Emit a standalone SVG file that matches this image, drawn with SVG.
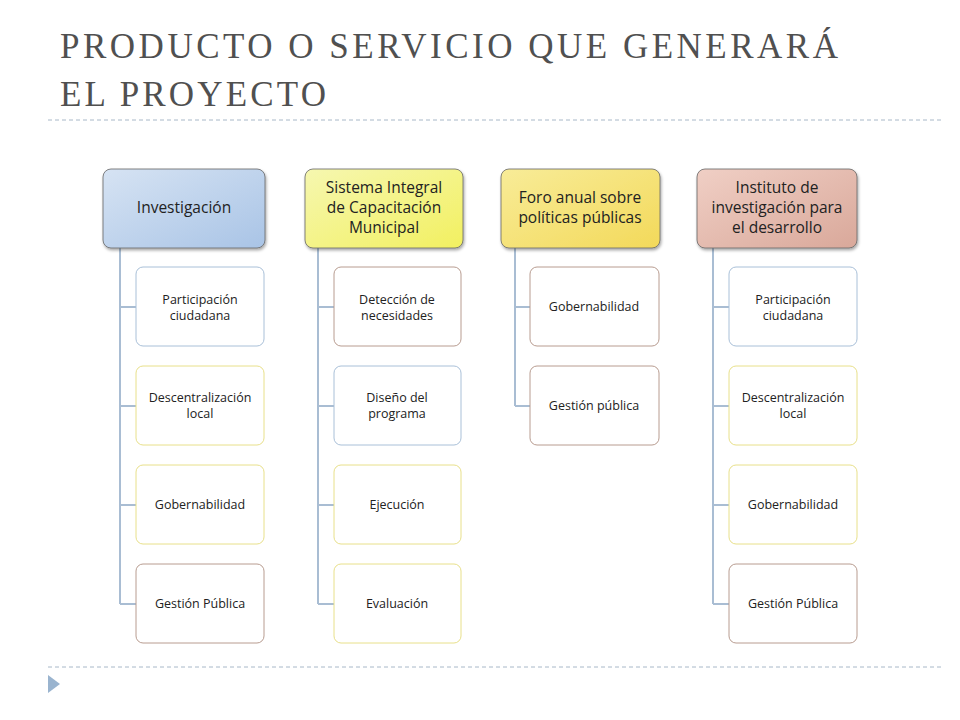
<svg xmlns="http://www.w3.org/2000/svg" width="960" height="720" viewBox="0 0 960 720">
<style>
.title{font-family:"Liberation Serif",serif;font-size:35px;fill:#505050}
.h{font-family:"Open Sans","Liberation Sans",sans-serif;font-size:15.5px;fill:#222;text-anchor:middle}
.c{font-family:"Open Sans","Liberation Sans",sans-serif;font-size:12.5px;fill:#222;text-anchor:middle}
.cb{fill:#fff;stroke-width:1}
.blue{stroke:#a9c0d8}.yel{stroke:#e8e08a}.brn{stroke:#b89c90}
.ln{stroke:#a9bdd3;stroke-width:2;fill:none}
.dash{stroke:#a8b8c8;stroke-width:1;stroke-dasharray:4 3}
</style>
<defs>
<linearGradient id="gb" x1="0" y1="0" x2="1" y2="1"><stop offset="0" stop-color="#d6e3f3"/><stop offset="1" stop-color="#a9c4e6"/></linearGradient>
<linearGradient id="gy" x1="0" y1="0" x2="1" y2="1"><stop offset="0" stop-color="#f6f7b0"/><stop offset="1" stop-color="#f2f060"/></linearGradient>
<linearGradient id="go" x1="0" y1="0" x2="1" y2="1"><stop offset="0" stop-color="#f8ec98"/><stop offset="1" stop-color="#f3d95a"/></linearGradient>
<linearGradient id="gr" x1="0" y1="0" x2="1" y2="1"><stop offset="0" stop-color="#f0cfc5"/><stop offset="1" stop-color="#d9a89a"/></linearGradient>
<filter id="sh" x="-10%" y="-10%" width="130%" height="130%"><feDropShadow dx="1" dy="2" stdDeviation="1.5" flood-opacity="0.35"/></filter>
</defs>
<text class="title" x="60" y="58" textLength="778" lengthAdjust="spacing">PRODUCTO O SERVICIO QUE GENERARÁ</text>
<text class="title" x="60" y="106" textLength="266" lengthAdjust="spacing">EL PROYECTO</text>
<line class="dash" x1="48" y1="120" x2="942" y2="120"/>
<line class="dash" x1="48" y1="667" x2="942" y2="667"/>
<polygon points="48,675 60,684 48,693" fill="#9ab4cf"/>
<g id="connectors">
<path class="ln" d="M120,248V604M120,307H136M120,406H136M120,505H136M120,604H136"/>
<path class="ln" d="M318,248V604M318,307H334M318,406H334M318,505H334M318,604H334"/>
<path class="ln" d="M515,248V406M515,307H530M515,406H530"/>
<path class="ln" d="M713,248V604M713,307H729M713,406H729M713,505H729M713,604H729"/>
</g>
<g id="h1"><rect x="103" y="169" width="162" height="79" rx="8" fill="url(#gb)" stroke="#666" stroke-width="0.8" filter="url(#sh)"/><text class="h" x="184" y="213">Investigación</text></g>
<g id="h2"><rect x="305" y="169" width="158" height="79" rx="8" fill="url(#gy)" stroke="#666" stroke-width="0.8" filter="url(#sh)"/><text class="h" x="384" y="193">Sistema Integral</text><text class="h" x="384" y="213">de Capacitación</text><text class="h" x="384" y="233">Municipal</text></g>
<g id="h3"><rect x="501" y="169" width="159" height="79" rx="8" fill="url(#go)" stroke="#666" stroke-width="0.8" filter="url(#sh)"/><text class="h" x="580" y="203">Foro anual  sobre</text><text class="h" x="580" y="223">políticas públicas</text></g>
<g id="h4"><rect x="697" y="169" width="160" height="79" rx="8" fill="url(#gr)" stroke="#666" stroke-width="0.8" filter="url(#sh)"/><text class="h" x="777" y="193">Instituto de</text><text class="h" x="777" y="213">investigación para</text><text class="h" x="777" y="233">el desarrollo</text></g>
<g id="c1a"><rect class="cb blue" x="136" y="267" width="128" height="79" rx="7"/><text class="c" x="200" y="304">Participación</text><text class="c" x="200" y="320">ciudadana</text></g>
<g id="c1b"><rect class="cb yel" x="136" y="366" width="128" height="79" rx="7"/><text class="c" x="200" y="402">Descentralización</text><text class="c" x="200" y="418">local</text></g>
<g id="c1c"><rect class="cb yel" x="136" y="465" width="128" height="79" rx="7"/><text class="c" x="200" y="509">Gobernabilidad</text></g>
<g id="c1d"><rect class="cb brn" x="136" y="564" width="128" height="79" rx="7"/><text class="c" x="200" y="608">Gestión Pública</text></g>
<g id="c2a"><rect class="cb brn" x="334" y="267" width="127" height="79" rx="7"/><text class="c" x="397" y="304">Detección de</text><text class="c" x="397" y="320">necesidades</text></g>
<g id="c2b"><rect class="cb blue" x="334" y="366" width="127" height="79" rx="7"/><text class="c" x="397" y="402">Diseño del</text><text class="c" x="397" y="418">programa</text></g>
<g id="c2c"><rect class="cb yel" x="334" y="465" width="127" height="79" rx="7"/><text class="c" x="397" y="509">Ejecución</text></g>
<g id="c2d"><rect class="cb yel" x="334" y="564" width="127" height="79" rx="7"/><text class="c" x="397" y="608">Evaluación</text></g>
<g id="c3a"><rect class="cb brn" x="530" y="267" width="129" height="79" rx="7"/><text class="c" x="594" y="311">Gobernabilidad</text></g>
<g id="c3b"><rect class="cb brn" x="530" y="366" width="129" height="79" rx="7"/><text class="c" x="594" y="410">Gestión pública</text></g>
<g id="c4a"><rect class="cb blue" x="729" y="267" width="128" height="79" rx="7"/><text class="c" x="793" y="304">Participación</text><text class="c" x="793" y="320">ciudadana</text></g>
<g id="c4b"><rect class="cb yel" x="729" y="366" width="128" height="79" rx="7"/><text class="c" x="793" y="402">Descentralización</text><text class="c" x="793" y="418">local</text></g>
<g id="c4c"><rect class="cb yel" x="729" y="465" width="128" height="79" rx="7"/><text class="c" x="793" y="509">Gobernabilidad</text></g>
<g id="c4d"><rect class="cb brn" x="729" y="564" width="128" height="79" rx="7"/><text class="c" x="793" y="608">Gestión Pública</text></g>
</svg>
